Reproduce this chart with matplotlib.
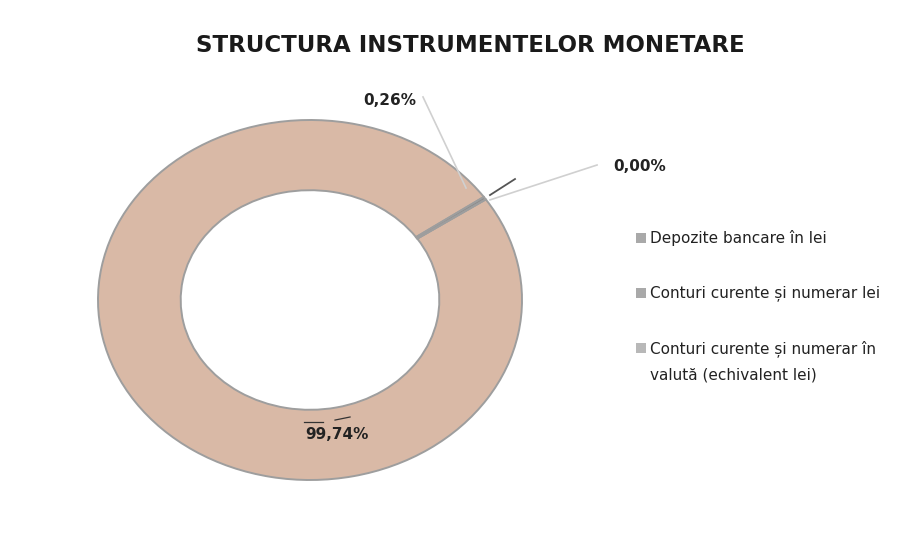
import matplotlib.pyplot as plt
from matplotlib.patches import Rectangle

# Date
categorii = ['Depozite bancare în lei',
             'Conturi curente și numerar lei',
             'Conturi curente și numerar în\nvalută (echivalent lei)']
procente = [99.74, 0.26, 0.00]
etichete = ['99,74%', '0,26%', '0,00%']

culori = ['#d9b9a6', '#8c8c8c', '#c4c4c4']
culori_legenda = ['#a9a9a9', '#a9a9a9', '#b8b8b8']

W, H = 897, 540
fig = plt.figure(figsize=(W / 100, H / 100), dpi=100)
fig.patch.set_facecolor('white')

# axa pozitionata astfel incat inelul sa fie usor eliptic, ca in original
ax = fig.add_axes([98 / W, 60 / H, 424 / W, 360 / H])
ax.pie(procente, colors=culori, startangle=34, counterclock=False,
       radius=1, wedgeprops=dict(width=0.39, edgecolor='#9e9e9e', linewidth=1.4))
ax.set_aspect('auto')
ax.set_xlim(-1, 1)
ax.set_ylim(-1, 1)

font_et = dict(ha='center', va='center', fontsize=11, fontweight='bold',
               color='#222222', family='DejaVu Sans')
ax.text(0.127, -0.745, etichete[0], **font_et)
ax.text(0.377, 1.111, etichete[1], **font_et)
ax.text(1.557, 0.739, etichete[2], **font_et)

# linii de legatura
ax.plot([0.533, 0.736], [1.128, 0.622], color='#d0d0d0', lw=1.2, clip_on=False)
ax.plot([1.354, 0.849], [0.750, 0.556], color='#d0d0d0', lw=1.2, clip_on=False)
ax.plot([0.849, 0.967], [0.583, 0.672], color='#555555', lw=1.3, clip_on=False)
ax.plot([-0.028, 0.061], [-0.678, -0.678], color='#333333', lw=0.9, clip_on=False)
ax.plot([0.118, 0.189], [-0.667, -0.650], color='#333333', lw=0.9, clip_on=False)

fig.text(470 / W, 1 - 45 / H, 'STRUCTURA INSTRUMENTELOR MONETARE', ha='center',
         va='center', fontsize=16.5, fontweight='bold', color='#1a1a1a',
         family='DejaVu Sans')

# legenda
rand_y = [238, 293, 348]
for cat, cul, y in zip(categorii, culori_legenda, rand_y):
    fig.patches.append(Rectangle((636 / W, 1 - (y + 5) / H), 10 / W, 10 / H,
                                 transform=fig.transFigure, facecolor=cul,
                                 edgecolor='none'))
    fig.text(650 / W, 1 - (y - 8) / H, cat, ha='left', va='top', fontsize=11,
             color='#222222', family='DejaVu Sans', linespacing=1.9)

fig.savefig('out.png', dpi=100, facecolor='white')
